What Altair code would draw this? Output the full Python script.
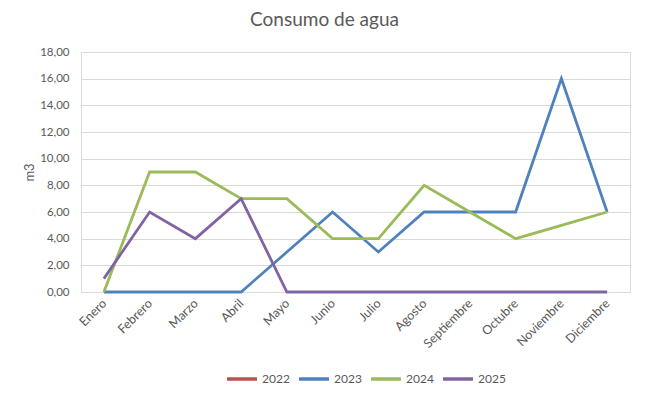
import altair as alt
import pandas as pd

meses = ["Enero", "Febrero", "Marzo", "Abril", "Mayo", "Junio", "Julio",
         "Agosto", "Septiembre", "Octubre", "Noviembre", "Diciembre"]
anios = ["2022", "2023", "2024", "2025"]
v2022 = [None] * 12  # series shown in legend, no values drawn
v2023 = [0, 0, 0, 0, 3, 6, 3, 6, 6, 6, 16, 6]
v2024 = [0, 9, 9, 7, 7, 4, 4, 8, 6, 4, 5, 6]
v2025 = [1, 6, 4, 7, 0, 0, 0, 0, 0, 0, 0, 0]
colores = ["#C0504D", "#4F81BD", "#9BBB59", "#8064A2"]

rows = []
for a, vals in zip(anios, [v2022, v2023, v2024, v2025]):
    for m, v in zip(meses, vals):
        if v is not None:
            rows.append({"Mes": m, "Año": a, "m3": v, "orden": anios.index(a)})
df = pd.DataFrame(rows)

FONT = "Lato"
GRAY = "#595959"

chart = alt.Chart(df).mark_line(strokeWidth=2.8).encode(
    x=alt.X("Mes:N", sort=meses, title=None,
            scale=alt.Scale(domain=meses, paddingInner=1, paddingOuter=0.5),
            axis=alt.Axis(labelAngle=-45, labelAlign="right", labelBaseline="middle",
                          labelPadding=9, ticks=False, domainColor="#D9D9D9",
                          labelColor=GRAY, labelFont=FONT, labelFontSize=12.5,
                          grid=False)),
    y=alt.Y("m3:Q", title="m3",
            scale=alt.Scale(domain=[0, 18], nice=False),
            axis=alt.Axis(values=list(range(0, 19, 2)),
                          labelExpr="replace(format(datum.value, '.2f'), '.', ',')",
                          ticks=False, domain=False, gridColor="#D9D9D9",
                          labelColor=GRAY, labelFont=FONT, labelFontSize=11.5,
                          labelPadding=12, titleColor=GRAY, titleFont=FONT,
                          titleFontSize=13, titleFontWeight="normal", titlePadding=3)),
    color=alt.Color("Año:N", sort=anios,
                    scale=alt.Scale(domain=anios, range=colores),
                    legend=alt.Legend(title=None, orient="none", direction="horizontal",
                                      legendX=144, legendY=310,
                                      symbolType="stroke", symbolSize=900,
                                      symbolStrokeWidth=3.5, columnPadding=2,
                                      labelColor=GRAY, labelFont=FONT,
                                      labelFontSize=12, labelOffset=3)),
    order=alt.Order("orden:Q"),
).properties(
    width=549, height=240,
    padding={"left": 73, "top": 44, "right": 7, "bottom": 94},
    autosize=alt.AutoSizeParams(type="none"),
    title=alt.Title("Consumo de agua", font=FONT, fontSize=19, fontWeight="normal",
                    color=GRAY, anchor="middle", offset=16, dx=-31),
).configure_view(stroke=None).configure(background="white")

chart.save("out.html", embed_options={"renderer": "svg", "actions": False})
